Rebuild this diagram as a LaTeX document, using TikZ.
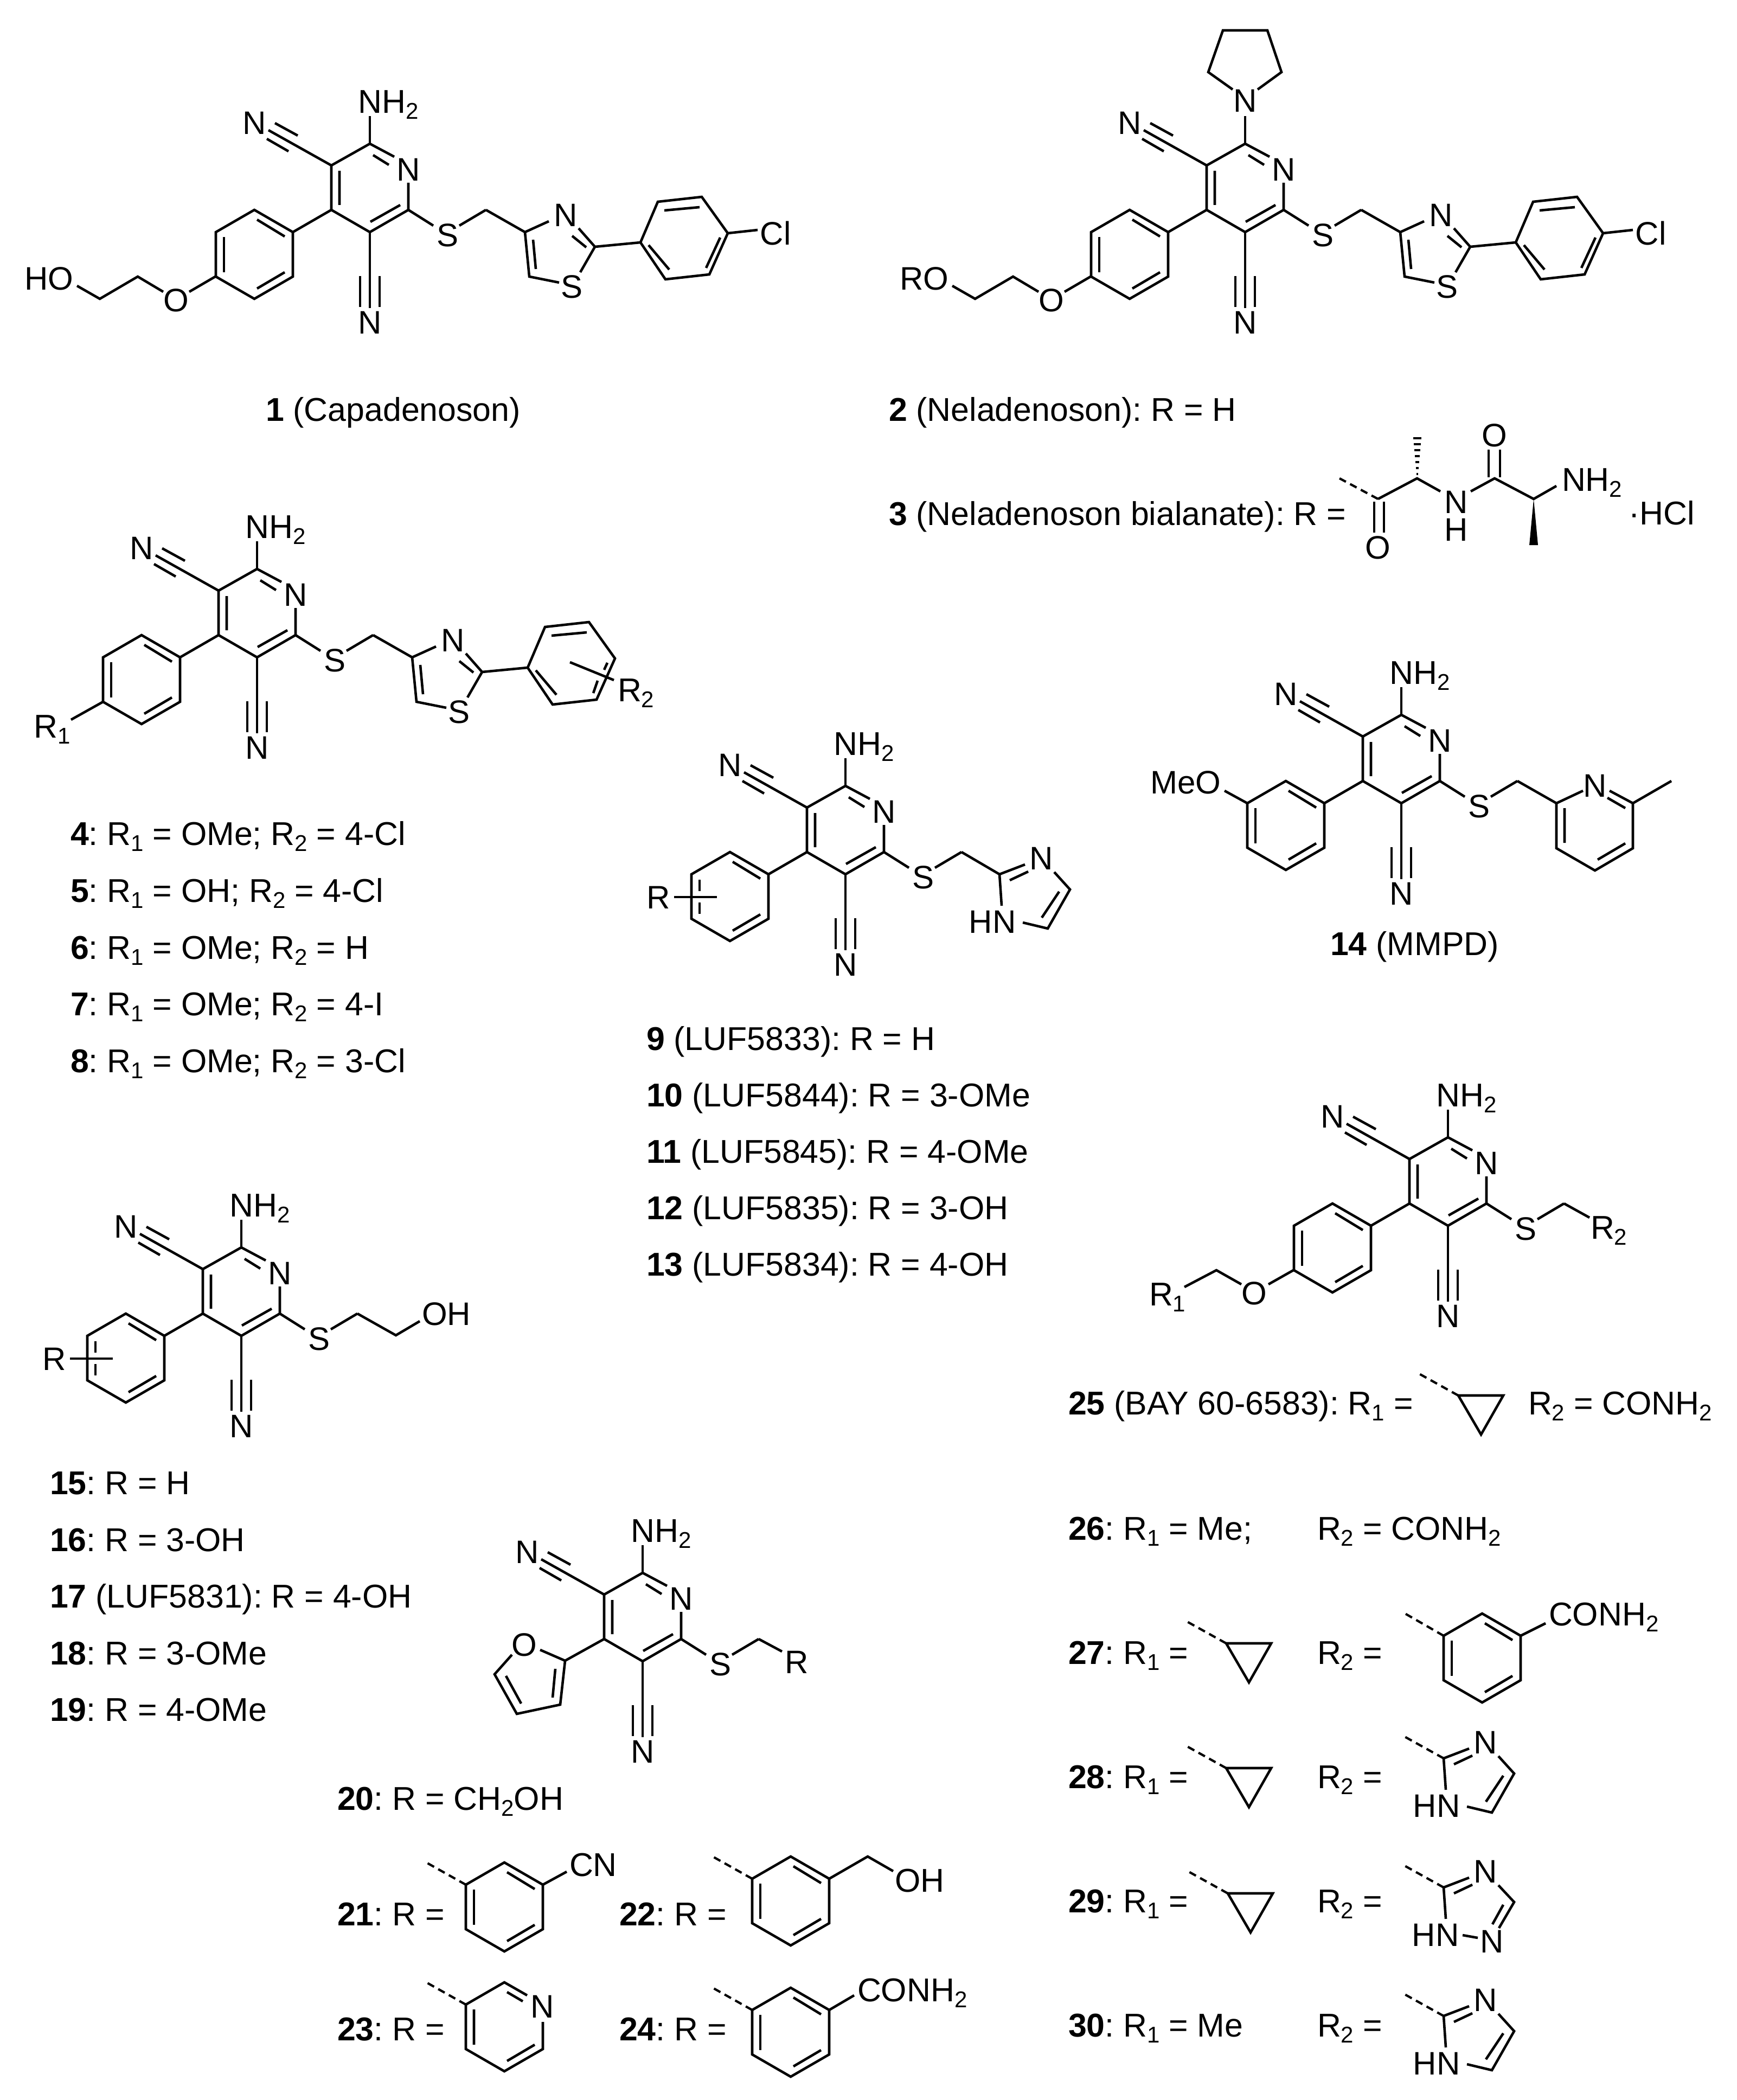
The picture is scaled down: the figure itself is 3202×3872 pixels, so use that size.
\documentclass[tikz,border=0pt]{standalone}
\usepackage{fontspec}
\setmainfont{Liberation Sans}
\newcounter{lc}
\newcommand{\sbs}[1]{\raisebox{-2.75pt}{\fontsize{10.5}{12}\selectfont #1}}
\newcommand{\Lat}[3]{\stepcounter{lc}\node[atom] (a\thelc) at (#1,#2) {#3};}
\newcommand{\Lab}[3]{\stepcounter{lc}\node[txt] (t\thelc) at (#1,#2) {#3};}
\tikzset{
  bond/.style={line width=1.15pt,line join=miter,line cap=butt},
  dbond/.style={line width=1.05pt,dash pattern=on 3.4pt off 2.2pt},
  atom/.style={inner sep=0pt,outer sep=0pt,anchor=center,font=\fontsize{15}{18}\selectfont},
  txt/.style={inner sep=0pt,outer sep=0pt,anchor=base west,font=\frenchspacing\fontsize{15.2}{18}\selectfont}
}
% benzene ring round origin
\newcommand{\hexa}{\draw[bond] (0,-82)--(71,-41)--(71,41)--(0,82)--(-71,41)--(-71,-41)--cycle;}
\newcommand{\innerA}{\draw[bond] (5,-64)--(56,-33) (5,63)--(56,33);}
\newcommand{\benz}{\hexa\innerA\draw[bond] (-56,-32)--(-56,33);}
\newcommand{\benzcut}{\hexa\innerA\draw[bond] (-56,-31)--(-56,-10) (-56,11)--(-56,32);}
% pyridine core round origin, without group on C2
\newcommand{\pyring}{
  \draw[bond] (45,-57)--(0,-81)--(-71,-41)--(-71,41)--(0,82)--(71,41)--(71,-9);
  \draw[bond] (6,-60)--(35,-42) (-56,-31)--(-56,32) (1,63)--(56,32);
  \Lat{71}{-33}{N}
  \draw[bond] (-71,-41)--(-187,-106) (-175,-119)--(-133,-96) (-190,-90)--(-150,-67);
  \Lat{-213}{-119}{N}
  \draw[bond] (0,82)--(0,222) (-18,163)--(-18,220) (18,163)--(18,220);
  \Lat{0}{249}{N}
  \draw[bond] (71,41)--(117,70);
  \Lat{143}{88}{S}
  \draw[bond] (165,70)--(214,41);
}
\newcommand{\amino}{\draw[bond] (0,-81)--(0,-132);\Lab{-21.5}{-137.5}{NH\sbs{2}}}
\newcommand{\arylL}{\draw[bond] (-71,41)--(-142,82);\begin{scope}[shift={(-213,123)}]\benz\end{scope}}
\newcommand{\arylR}{\draw[bond] (-71,41)--(-142,82);\begin{scope}[shift={(-213,123)}]\benzcut\end{scope}
  \draw[bond] (-316,124)--(-237,124);\Lat{-345}{125}{R}}
\newcommand{\thiazole}{
  \draw[bond] (214,41)--(286,82)--(330,62) (385,75)--(415,109)--(388,156) (349,175)--(294,164)--(286,82);
  \draw[bond] (373,89)--(399,110) (306,150)--(301,96);
  \Lat{361}{51}{N}\Lat{372}{183}{S}
  \draw[bond] (415,109)--(499,101);
  \draw[bond] (499,101)--(531,26)--(612,17)--(660,84)--(626,160)--(545,169)--cycle;
  \draw[bond] (543,42)--(608,36) (514,106)--(552,151);
}
\newcommand{\tailOEt}[1]{
  \draw[bond] (-285,164)--(-333,192) (-381,192)--(-428,164)--(-498,205)--(-540,181);
  \Lat{-357}{208}{O}\Lat{-592}{168}{#1}
}
\newcommand{\clph}{\draw[bond] (646,92)--(620,148) (660,84)--(715,78);\Lat{748}{84}{Cl}}
\newcommand{\imid}{
  \draw[bond] (4,58)--(0,0)--(47,-18) (19,11)--(53,-5) (101,-4)--(130,28)--(89,100)--(43,89) (110,32)--(78,80);
  \Lat{77}{-29}{N}\Lat{-13}{88}{HN}
}
\newcommand{\triaz}{
  \draw[bond] (4,58)--(0,0)--(47,-18) (19,11)--(53,-5) (101,-4)--(130,27)--(102,75) (110,32)--(90,68) (35,88)--(63,93);
  \Lat{77}{-29}{N}\Lat{-15}{88}{HN}\Lat{89}{100}{N}
}
\newcommand{\dashup}{\draw[dbond] (0,0)--(-72,-40);}
\newcommand{\cprop}{\dashup\draw[bond] (0,0)--(83,0)--(42,72)--cycle;}
\begin{document}
\begin{tikzpicture}[x=0.25pt,y=-0.25pt]
\useasboundingbox (0,0) rectangle (3202,3872);
\fill[white] (0,0) rectangle (3202,3872);
% ---- 1
\begin{scope}[shift={(682,346)}]
\pyring\amino\arylL\tailOEt{HO}\thiazole\clph
\end{scope}
\Lab{490}{777}{\textbf{1} (Capadenoson)}
% ---- 2
\begin{scope}[shift={(2296,346)}]
\pyring\arylL\tailOEt{RO}\thiazole\clph
\draw[bond] (0,-81)--(0,-132);
\Lat{0}{-160}{N}
\draw[bond] (-23,-181)--(-68,-213)--(-41,-290)--(41,-290)--(67,-213)--(23,-181);
\end{scope}
\Lab{1639}{777}{\textbf{2} (Neladenoson): R = H}
\Lab{1639}{969}{\textbf{3} (Neladenoson bialanate): R =}
% R of 3
\draw[dbond] (2541,920)--(2470,882);
\draw[bond] (2534,925)--(2534,982) (2552,925)--(2552,982);
\draw[bond] (2541,920)--(2613,882)--(2656,906) (2712,906)--(2756,882)--(2828,920)--(2870,896);
\draw[bond] (2745,880)--(2745,829) (2766,880)--(2766,829);
\foreach \d/\w in {8/1.5,19/2.5,30/3.5,41/4.5,52/5.5,63/6.5,74/7.5}
  \draw[line width=0.8pt] (2613-\w,882-\d)--(2613+\w,882-\d);
\fill (2828,920)--(2820,1005)--(2836,1005)--cycle;
\Lat{2541}{1010}{O}\Lat{2685}{926}{N}\Lat{2685}{977}{H}\Lat{2756}{803}{O}
\Lab{2880}{905}{NH\sbs{2}}
\Lab{3003}{968}{·HCl}
% ---- 4-8
\begin{scope}[shift={(474,1130)}]
\pyring\amino\arylL\thiazole
\draw[bond] (646,92)--(640,105) (628,125)--(620,148) (577,91)--(658,124);
\Lab{665}{163.5}{R\sbs{2}}
\draw[bond] (-284,164)--(-343,197);
\Lab{-411}{230}{R\sbs{1}}
\end{scope}
\Lab{130}{1558}{\textbf{4}: R\sbs{1} = OMe; R\sbs{2} = 4-Cl}
\Lab{130}{1663}{\textbf{5}: R\sbs{1} = OH; R\sbs{2} = 4-Cl}
\Lab{130}{1768}{\textbf{6}: R\sbs{1} = OMe; R\sbs{2} = H}
\Lab{130}{1872}{\textbf{7}: R\sbs{1} = OMe; R\sbs{2} = 4-I}
\Lab{130}{1977}{\textbf{8}: R\sbs{1} = OMe; R\sbs{2} = 3-Cl}
% ---- 9-13
\begin{scope}[shift={(1559,1530)}]
\pyring\amino\arylR
\draw[bond] (214,41)--(284,82);
\begin{scope}[shift={(284,82)}]\imid\end{scope}
\end{scope}
\Lab{1192}{1936}{\textbf{9} (LUF5833): R = H}
\Lab{1192}{2040}{\textbf{10} (LUF5844): R = 3-OMe}
\Lab{1192}{2144}{\textbf{11} (LUF5845): R = 4-OMe}
\Lab{1192}{2248}{\textbf{12} (LUF5835): R = 3-OH}
\Lab{1192}{2352}{\textbf{13} (LUF5834): R = 4-OH}
% ---- 14
\begin{scope}[shift={(2584,1399)}]
\pyring\amino\arylL
\draw[bond] (-284,82)--(-326,59);
\Lat{-398}{44}{MeO}
\draw[bond] (214,41)--(286,82)--(335,59) (384,59)--(427,82)--(498,41) (427,82)--(427,165)--(357,206)--(286,165)--(286,82);
\draw[bond] (380,72)--(413,91) (301,91)--(301,155) (362,186)--(413,156);
\Lat{357}{50}{N}
\end{scope}
\Lab{2453}{1761}{\textbf{14} (MMPD)}
% ---- 15-19
\begin{scope}[shift={(445,2381)}]
\pyring\amino\arylR
\draw[bond] (214,41)--(285,81)--(329,55);
\Lat{378}{42}{OH}
\end{scope}
\Lab{92}{2755}{\textbf{15}: R = H}
\Lab{92}{2860}{\textbf{16}: R = 3-OH}
\Lab{92}{2964}{\textbf{17} (LUF5831): R = 4-OH}
\Lab{92}{3069}{\textbf{18}: R = 3-OMe}
\Lab{92}{3173}{\textbf{19}: R = 4-OMe}
% ---- 20-24
\begin{scope}[shift={(1185,2981)}]
\pyring\amino
\draw[bond] (-71,41)--(-143,81)--(-189,61) (-241,70)--(-273,106)--(-232,179)--(-152,162)--(-143,81);
\draw[bond] (-252,109)--(-224,160) (-166,149)--(-161,96);
\Lat{-218}{52}{O}
\draw[bond] (214,41)--(257,64);
\Lat{284}{84}{R}
\end{scope}
\Lab{622}{3337}{\textbf{20}: R = CH\sbs{2}OH}
\Lab{622}{3550}{\textbf{21}: R =}
\Lab{1142}{3550}{\textbf{22}: R =}
\Lab{622}{3762}{\textbf{23}: R =}
\Lab{1142}{3762}{\textbf{24}: R =}
\begin{scope}[shift={(930,3516)}]\benz\draw[dbond] (-71,-41)--(-144,-82);\draw[bond] (71,-41)--(115,-65);\end{scope}
\Lab{1050}{3459}{CN}
\begin{scope}[shift={(1458,3505)}]\benz\draw[dbond] (-71,-41)--(-144,-82);\draw[bond] (71,-41)--(142,-82)--(189,-55);\end{scope}
\Lab{1650}{3488}{OH}
\begin{scope}[shift={(930,3737)}]
\draw[bond] (42,-58)--(0,-82)--(-71,-41)--(-71,41)--(0,82)--(71,41)--(71,-9);
\draw[bond] (5,-64)--(34,-47) (5,63)--(56,33) (-56,-32)--(-56,33);
\draw[dbond] (-71,-41)--(-144,-82);
\Lat{70}{-37}{N}
\end{scope}
\begin{scope}[shift={(1458,3747)}]\benz\draw[dbond] (-71,-41)--(-144,-82);\draw[bond] (71,-41)--(117,-68);\end{scope}
\Lab{1581}{3690}{CONH\sbs{2}}
% ---- 25-30
\begin{scope}[shift={(2670,2178)}]
\pyring\amino\arylL
\draw[bond] (-285,164)--(-331,190) (-381,190)--(-427,164)--(-486,195);
\Lat{-357}{207}{O}
\Lab{-551}{229}{R\sbs{1}}
\draw[bond] (214,41)--(261,67);
\Lab{263}{106}{R\sbs{2}}
\end{scope}
\Lab{1970}{2608}{\textbf{25} (BAY 60-6583): R\sbs{1} =}
\begin{scope}[shift={(2689,2573)}]\cprop\end{scope}
\Lab{2818}{2608}{R\sbs{2} = CONH\sbs{2}}
\Lab{1970}{2839}{\textbf{26}: R\sbs{1} = Me;}
\Lab{2429}{2839}{R\sbs{2} = CONH\sbs{2}}
\Lab{1970}{3068}{\textbf{27}: R\sbs{1} =}
\Lab{2429}{3068}{R\sbs{2} =}
\begin{scope}[shift={(2261,3030)}]\cprop\end{scope}
\begin{scope}[shift={(2733,3057)}]\benz\draw[dbond] (-71,-41)--(-144,-83);\draw[bond] (71,-41)--(117,-64);\end{scope}
\Lab{2856}{2997}{CONH\sbs{2}}
\Lab{1970}{3297}{\textbf{28}: R\sbs{1} =}
\Lab{2429}{3297}{R\sbs{2} =}
\begin{scope}[shift={(2261,3260)}]\cprop\end{scope}
\begin{scope}[shift={(2662,3242)}]\dashup\imid\end{scope}
\Lab{1970}{3526}{\textbf{29}: R\sbs{1} =}
\Lab{2429}{3526}{R\sbs{2} =}
\begin{scope}[shift={(2264,3491)}]\cprop\end{scope}
\begin{scope}[shift={(2662,3480)}]\dashup\triaz\end{scope}
\Lab{1970}{3755}{\textbf{30}: R\sbs{1} = Me}
\Lab{2429}{3755}{R\sbs{2} =}
\begin{scope}[shift={(2662,3717)}]\dashup\imid\end{scope}
\end{tikzpicture}
\end{document}
